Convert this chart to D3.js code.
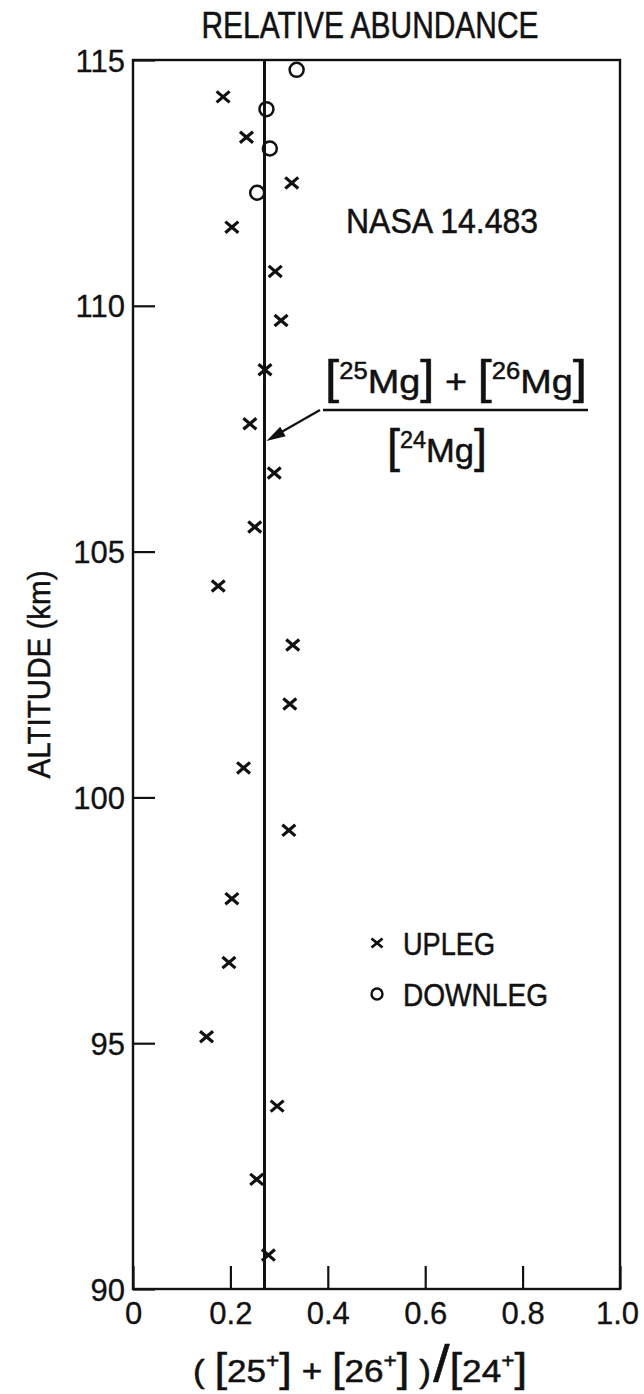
<!DOCTYPE html>
<html>
<head>
<meta charset="utf-8">
<script src="https://cdn.jsdelivr.net/npm/d3@7"></script>
<style>
  html, body { margin: 0; padding: 0; background: #fff; }
  svg { display: block; }
  .nar { font-family: "Liberation Sans Narrow", "Liberation Sans", Arial, sans-serif; stroke: #111; stroke-width: 0.5px; }
  .tick text { font-family: "Liberation Sans", Arial, sans-serif; stroke: #111; stroke-width: 0.3px; }
</style>
</head>
<body>
<svg id="chart" width="644" height="1394"></svg>
<script>
// ---- data ----
const xTicks = [0, 0.2, 0.4, 0.6, 0.8, 1.0];
const yTicks = [90, 95, 100, 105, 110, 115];
const meanRatio = 0.27;

const uplegRatio = [0.185, 0.233, 0.326, 0.203, 0.292, 0.304, 0.271, 0.240, 0.290, 0.250, 0.175, 0.328,
                    0.322, 0.227, 0.320, 0.203, 0.197, 0.151, 0.296, 0.254, 0.278];
const uplegAlt   = [114.25, 113.43, 112.5, 111.6, 110.7, 109.7, 108.7, 107.6, 106.6, 105.5, 104.3, 103.1,
                    101.9, 100.6, 99.33, 97.94, 96.64, 95.13, 93.72, 92.23, 90.69];
const downRatio = [0.336, 0.274, 0.281, 0.255];
const downAlt   = [114.8, 114.0, 113.2, 112.3];

// ---- layout ----
const svg = d3.select("#chart");
const x = d3.scaleLinear().domain([0, 1]).range([133, 620]);
const y = d3.scaleLinear().domain([90, 115]).range([1289, 60]);

const ink = "#111";

// axes (inward ticks)
const fmtX = d => d === 0 ? "0" : d3.format(".1f")(d);
const gx = svg.append("g").attr("transform", `translate(0,${y(90)})`)
  .call(d3.axisBottom(x).tickValues(xTicks).tickSize(-23).tickPadding(13).tickFormat(fmtX));
const gy = svg.append("g").attr("transform", `translate(${x(0)},0)`)
  .call(d3.axisLeft(y).tickValues(yTicks).tickSize(-22).tickPadding(8).tickFormat(d3.format("d")));
[gx, gy].forEach(g => {
  g.select(".domain").remove();
  g.selectAll(".tick line").attr("stroke", ink).attr("stroke-width", 2.2);
  g.selectAll(".tick text").attr("fill", ink).attr("font-size", 31);
});
gy.selectAll(".tick text").attr("dy", "0.36em");
gx.selectAll(".tick text").attr("dx", (d, i) => d === 1 ? -3 : 0);

// frame
svg.append("rect")
  .attr("x", x(0)).attr("y", y(115))
  .attr("width", x(1) - x(0)).attr("height", y(90) - y(115))
  .attr("fill", "none").attr("stroke", ink).attr("stroke-width", 2.4);

// mean line
svg.append("line")
  .attr("x1", x(meanRatio)).attr("x2", x(meanRatio))
  .attr("y1", y(115)).attr("y2", y(90))
  .attr("stroke", ink).attr("stroke-width", 3);

// upleg crosses
const s = 6.5;
svg.append("g").selectAll("path").data(uplegRatio).join("path")
  .attr("d", (d, i) => {
    const cx = x(d), cy = y(uplegAlt[i]);
    return `M${cx - s},${cy - s * 0.85}L${cx + s},${cy + s * 0.85}M${cx - s},${cy + s * 0.85}L${cx + s},${cy - s * 0.85}`;
  })
  .attr("stroke", ink).attr("stroke-width", 3.2).attr("fill", "none");

// downleg circles
svg.append("g").selectAll("circle").data(downRatio).join("circle")
  .attr("cx", d => x(d)).attr("cy", (d, i) => y(downAlt[i])).attr("r", 7)
  .attr("fill", "none").attr("stroke", ink).attr("stroke-width", 2.5);

// title
svg.append("text").attr("class", "nar")
  .attr("x", 370).attr("y", 38).attr("text-anchor", "middle")
  .attr("font-size", 36).attr("fill", ink)
  .attr("textLength", 337).attr("lengthAdjust", "spacingAndGlyphs")
  .text("RELATIVE ABUNDANCE");

// NASA label
svg.append("text").attr("class", "nar")
  .attr("x", 346).attr("y", 233)
  .attr("font-size", 35).attr("fill", ink)
  .attr("textLength", 192).attr("lengthAdjust", "spacingAndGlyphs")
  .text("NASA 14.483");

// fraction annotation
const fr = svg.append("g").attr("class", "nar").attr("fill", ink);
const num = fr.append("text").attr("x", 325).attr("y", 393).attr("font-size", 34)
  .attr("textLength", 262).attr("lengthAdjust", "spacingAndGlyphs");
num.append("tspan").attr("font-size", 46).attr("font-weight", 300).text("[");
num.append("tspan").attr("font-size", 23).attr("dy", -14).text("25");
num.append("tspan").attr("dy", 14).text("Mg");
num.append("tspan").attr("font-size", 46).text("]");
num.append("tspan").text(" + ");
num.append("tspan").attr("font-size", 46).text("[");
num.append("tspan").attr("font-size", 23).attr("dy", -14).text("26");
num.append("tspan").attr("dy", 14).text("Mg");
num.append("tspan").attr("font-size", 46).text("]");

fr.append("line").attr("x1", 323).attr("x2", 588).attr("y1", 410).attr("y2", 410)
  .attr("stroke", ink).attr("stroke-width", 2.4);

const den = fr.append("text").attr("x", 387).attr("y", 462).attr("font-size", 34)
  .attr("textLength", 100).attr("lengthAdjust", "spacingAndGlyphs");
den.append("tspan").attr("font-size", 46).text("[");
den.append("tspan").attr("font-size", 23).attr("dy", -14).text("24");
den.append("tspan").attr("dy", 14).text("Mg");
den.append("tspan").attr("font-size", 46).text("]");

// arrow
const tipX = x(meanRatio) + 2, tipY = y(107.25);
svg.append("line").attr("x1", 320).attr("y1", 410).attr("x2", tipX + 8).attr("y2", tipY - 5)
  .attr("stroke", ink).attr("stroke-width", 2.2);
(() => {
  const ang = Math.atan2(tipY - 410, tipX - 320);
  const L = 19, W = 5.5;
  const bx = tipX - L * Math.cos(ang), by = tipY - L * Math.sin(ang);
  const px = -Math.sin(ang) * W, py = Math.cos(ang) * W;
  svg.append("path")
    .attr("d", `M${tipX},${tipY}L${bx + px},${by + py}L${bx - px},${by - py}Z`)
    .attr("fill", ink);
})();

// legend
const lg = svg.append("g").attr("class", "nar").attr("fill", ink);
const lx = 377;
lg.append("path")
  .attr("d", `M${lx - 5.5},${943 - 4.5}L${lx + 5.5},${943 + 4.5}M${lx - 5.5},${943 + 4.5}L${lx + 5.5},${943 - 4.5}`)
  .attr("stroke", ink).attr("stroke-width", 2.8);
lg.append("text").attr("x", 403).attr("y", 955).attr("font-size", 32)
  .attr("textLength", 92).attr("lengthAdjust", "spacingAndGlyphs").text("UPLEG");
lg.append("circle").attr("cx", lx).attr("cy", 994).attr("r", 5.5)
  .attr("fill", "none").attr("stroke", ink).attr("stroke-width", 2.4);
lg.append("text").attr("x", 403).attr("y", 1006).attr("font-size", 32)
  .attr("textLength", 145).attr("lengthAdjust", "spacingAndGlyphs").text("DOWNLEG");

// y axis label
svg.append("text").attr("class", "nar")
  .attr("transform", `translate(50,${y(102.5)}) rotate(-90)`)
  .attr("text-anchor", "middle").attr("font-size", 32).attr("fill", ink)
  .attr("textLength", 208).attr("lengthAdjust", "spacingAndGlyphs")
  .text("ALTITUDE (km)");

// x axis label
const xl = svg.append("text").attr("class", "nar").attr("x", 193).attr("y", 1382)
  .attr("font-size", 31).attr("fill", ink)
  .attr("textLength", 334).attr("lengthAdjust", "spacingAndGlyphs");
xl.append("tspan").text("( ");
xl.append("tspan").attr("font-size", 40).text("[");
xl.append("tspan").text("25");
xl.append("tspan").attr("font-size", 20).attr("dy", -14).text("+");
xl.append("tspan").attr("dy", 14).attr("font-size", 40).text("]");
xl.append("tspan").text(" + ");
xl.append("tspan").attr("font-size", 40).text("[");
xl.append("tspan").text("26");
xl.append("tspan").attr("font-size", 20).attr("dy", -14).text("+");
xl.append("tspan").attr("dy", 14).attr("font-size", 40).text("]");
xl.append("tspan").text(" )");
xl.append("tspan").attr("font-size", 52).attr("dx", 2).text("/");
xl.append("tspan").attr("font-size", 40).text("[");
xl.append("tspan").text("24");
xl.append("tspan").attr("font-size", 20).attr("dy", -14).text("+");
xl.append("tspan").attr("dy", 14).attr("font-size", 40).text("]");
</script>
</body>
</html>
